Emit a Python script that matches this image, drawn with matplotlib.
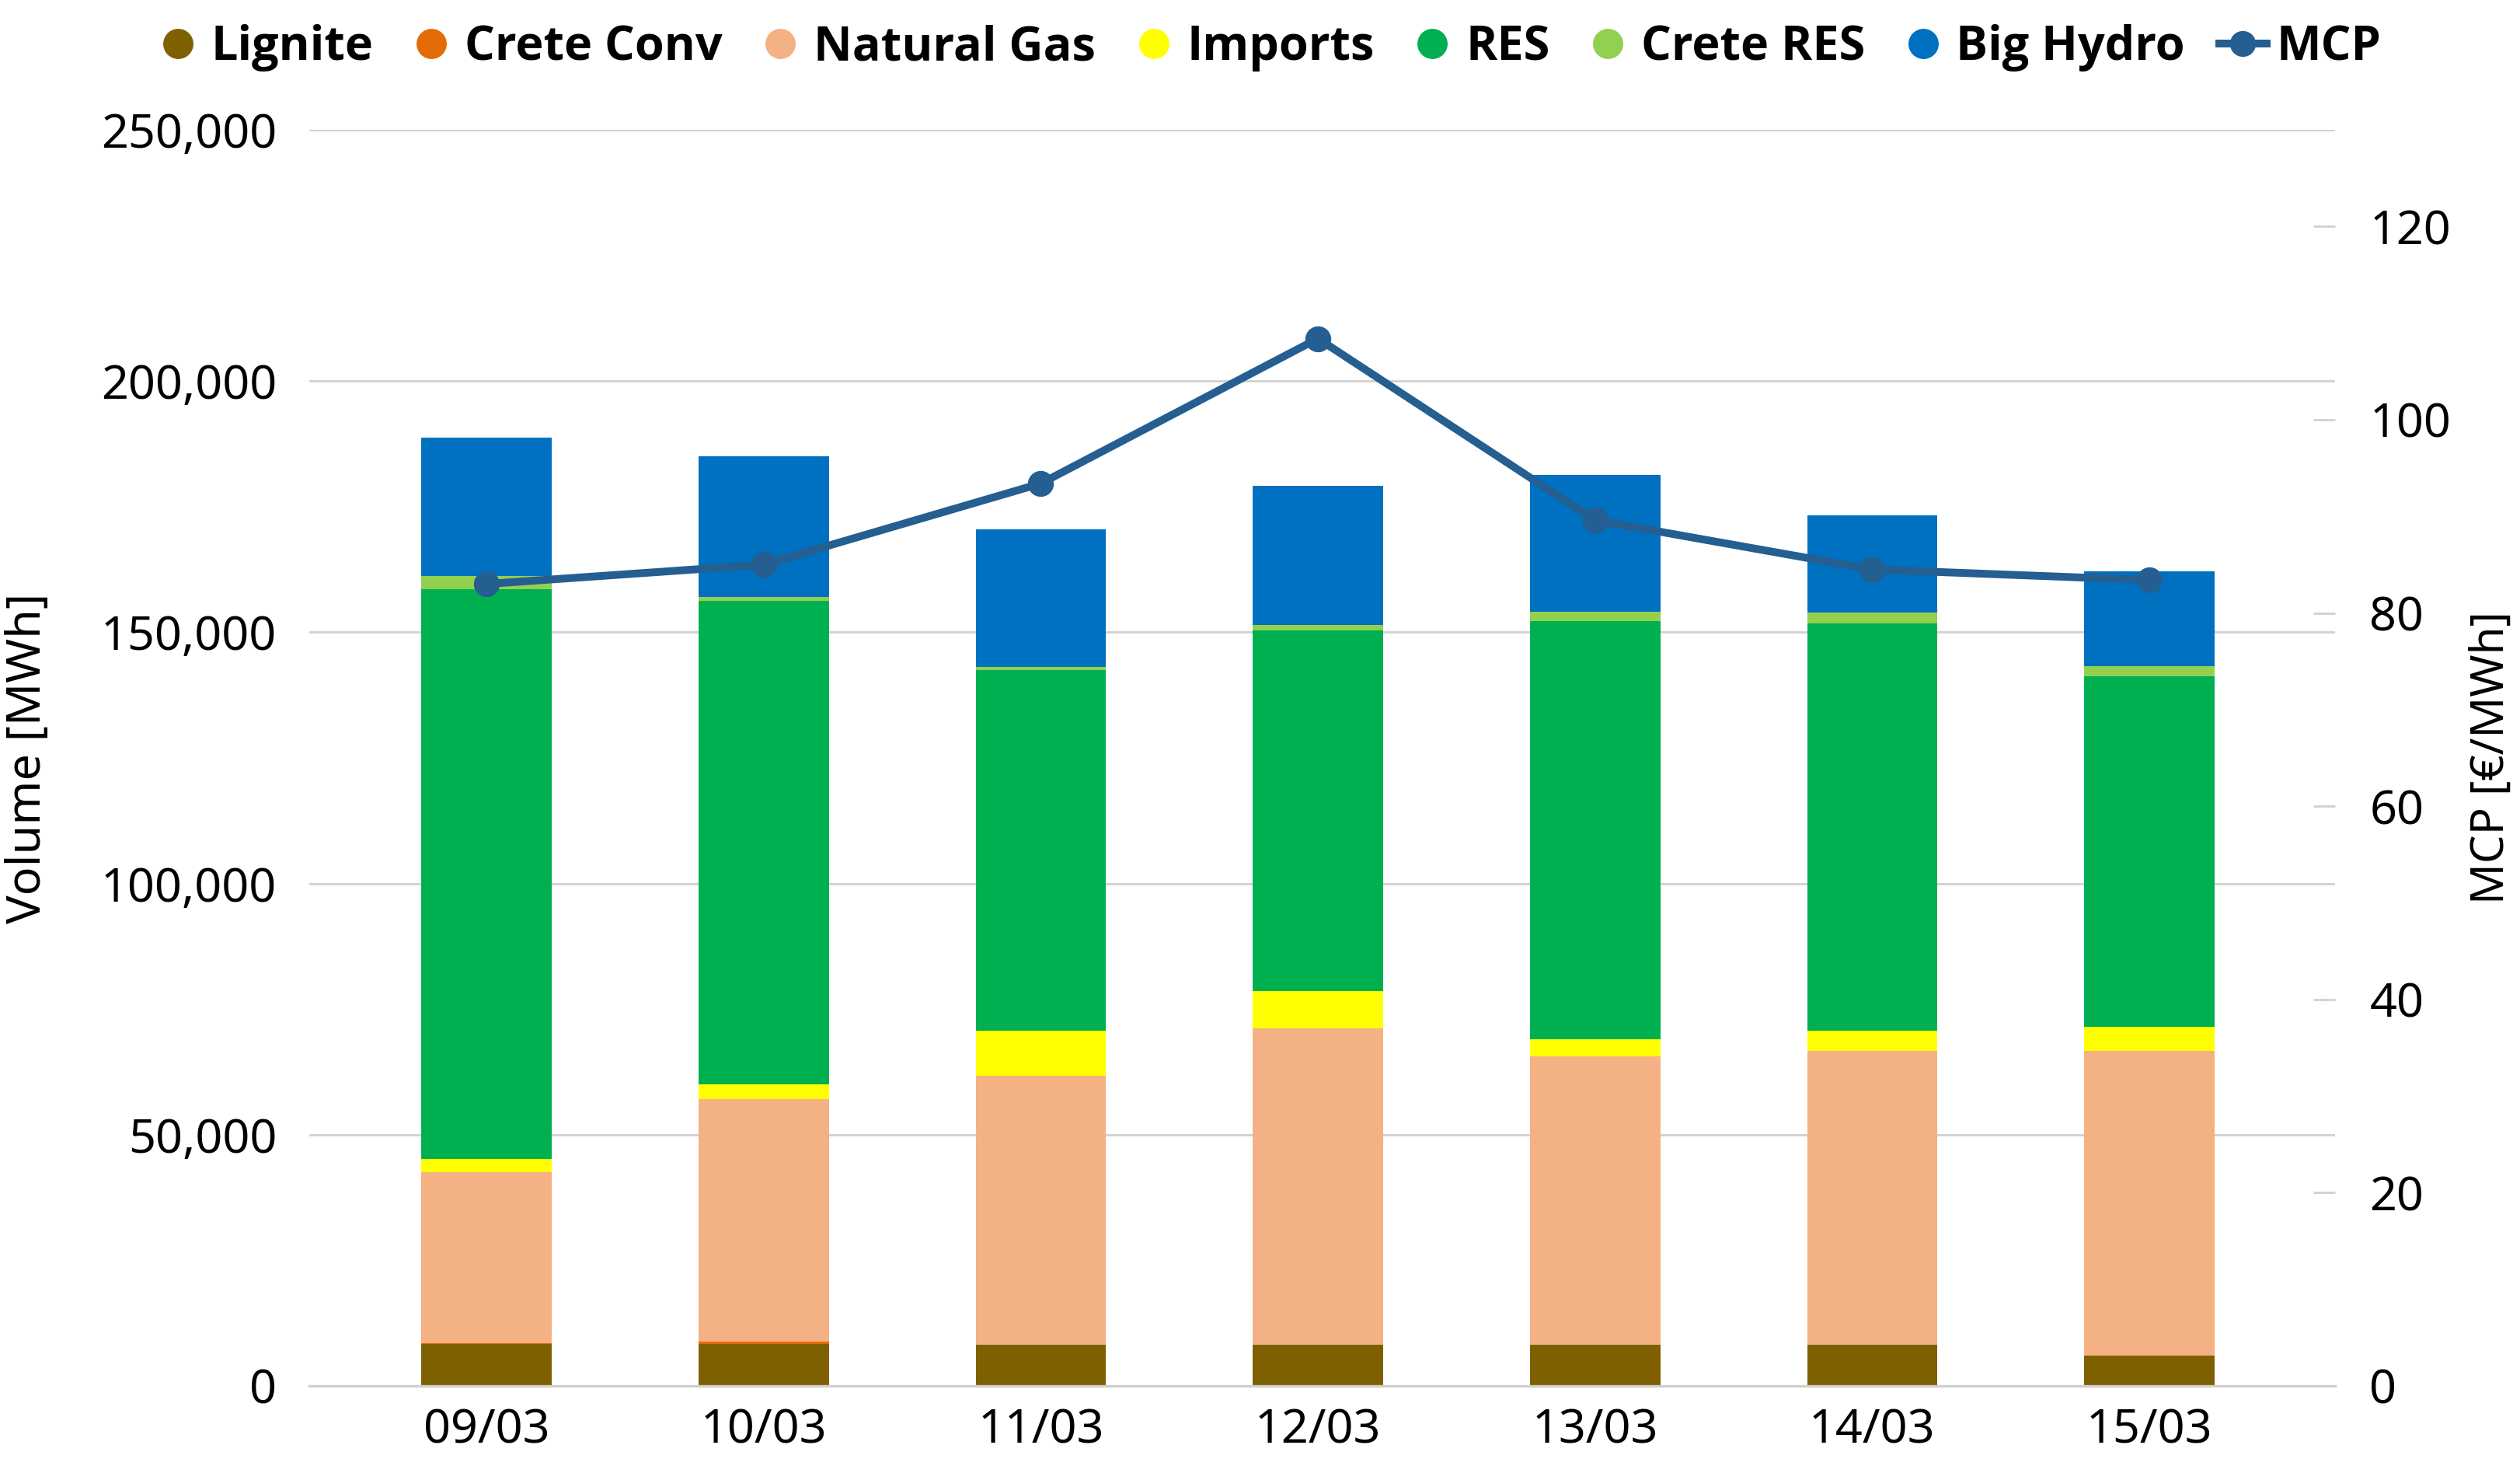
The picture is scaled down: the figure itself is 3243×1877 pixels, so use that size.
import matplotlib
matplotlib.use('Agg')
import matplotlib.pyplot as plt
from matplotlib.lines import Line2D
from matplotlib.ticker import FuncFormatter, MultipleLocator
from matplotlib import font_manager
import numpy as np

days = ['09/03', '10/03', '11/03', '12/03', '13/03', '14/03', '15/03']

# volumes in MWh
lignite = [8300, 8300, 8200, 8200, 8200, 8200, 6000]
crete_conv = [200, 500, 0, 0, 0, 0, 0]
natural_gas = [34000, 48300, 53500, 63000, 57400, 58500, 60700]
imports = [2600, 2900, 9000, 7400, 3400, 4000, 4800]
res = [113400, 96200, 71800, 71700, 83200, 81100, 69800]
crete_res = [2700, 800, 600, 1200, 1900, 2100, 2000]
big_hydro = [27500, 28000, 27400, 27600, 27200, 19400, 18800]

# market clearing price in EUR/MWh
mcp = [83.0, 85.0, 93.4, 108.4, 89.6, 84.5, 83.4]

series = [
    ('Lignite', lignite, '#7F6000'),
    ('Crete Conv', crete_conv, '#E36C09'),
    ('Natural Gas', natural_gas, '#F4B183'),
    ('Imports', imports, '#FFFF00'),
    ('RES', res, '#00B050'),
    ('Crete RES', crete_res, '#92D050'),
    ('Big Hydro', big_hydro, '#0070C0'),
]
line_color = '#255E91'
grid_color = '#D0D0D0'

plt.rcParams['font.family'] = ['Noto Sans', 'DejaVu Sans']

# pick a family that really has a bold face for the legend
bold_family = 'DejaVu Sans'
for fam in ['Noto Sans', 'Open Sans', 'Lato', 'Roboto', 'Liberation Sans']:
    try:
        path = font_manager.findfont(font_manager.FontProperties(family=fam, weight='bold'),
                                     fallback_to_default=False)
        if 'bold' in path.lower() and fam.split()[0].lower() in path.lower().replace(' ', ''):
            bold_family = fam
            break
    except Exception:
        pass

fig = plt.figure(figsize=(16.215, 9.385), dpi=200)
ax = fig.add_axes([0.1227, 0.0501, 0.8039, 0.8609])

x = np.arange(len(days))
bottom = np.zeros(len(days))
for name, vals, color in series:
    ax.bar(x, vals, width=0.47, bottom=bottom, color=color, linewidth=0, zorder=2)
    bottom += np.array(vals)

ax.set_xlim(-0.64, 6.67)
ax.set_ylim(0, 250000)
ax.yaxis.set_major_locator(MultipleLocator(50000))
ax.yaxis.set_major_formatter(FuncFormatter(lambda v, p: f'{int(v):,}'))
ax.grid(axis='y', color=grid_color, linewidth=1.0, zorder=0)
ax.set_axisbelow(True)
ax.set_xticks(x)
ax.set_xticklabels(days)
ax.tick_params(axis='both', length=0, labelsize=22)
ax.tick_params(axis='x', pad=10)
ax.tick_params(axis='y', pad=15)
for s in ['top', 'right', 'left']:
    ax.spines[s].set_visible(False)
ax.spines['bottom'].set_color(grid_color)
ax.spines['bottom'].set_linewidth(1.2)
ax.set_ylabel('Volume [MWh]', fontsize=22)
ax.yaxis.set_label_coords(-0.127, 0.5)

ax2 = ax.twinx()
ax2.plot(x, mcp, color=line_color, linewidth=3.6, marker='o', markersize=11, zorder=5)
ax2.set_ylim(0, 130)
ax2.set_yticks([0, 20, 40, 60, 80, 100, 120])
ax2.tick_params(axis='y', direction='in', length=10, width=1.0, color=grid_color,
                labelsize=22, pad=16)
for s in ['top', 'right', 'left', 'bottom']:
    ax2.spines[s].set_visible(False)
ax2.set_ylabel('MCP [€/MWh]', fontsize=21)
ax2.yaxis.set_label_coords(1.066, 0.5)

handles = [Line2D([], [], linestyle='none', marker='o', markersize=13,
                  markerfacecolor=c, markeredgecolor=c) for _, _, c in series]
handles.append(Line2D([], [], color=line_color, linewidth=3.6, marker='o', markersize=11))
labels = [n for n, _, _ in series] + ['MCP']
fig.legend(handles, labels, loc='center', bbox_to_anchor=(0.503, 0.967), ncol=8,
           frameon=False, handlelength=1.0, handletextpad=0.2, columnspacing=0.72,
           prop={'family': bold_family, 'weight': 'bold', 'size': 22})

fig.savefig('out.png', dpi=200)
